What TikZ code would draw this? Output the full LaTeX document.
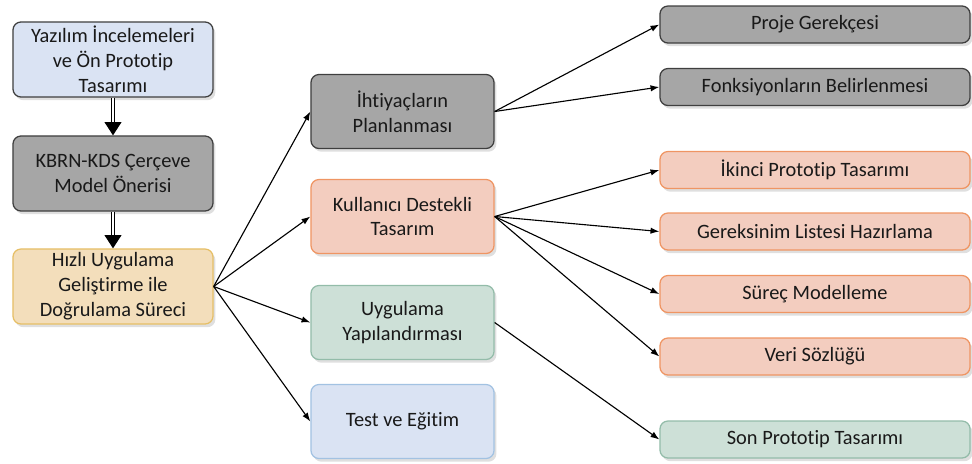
\documentclass[tikz,border=0pt]{standalone}
\usepackage{fontspec}
\setmainfont{Carlito}[Ligatures=NoCommon]
\usetikzlibrary{positioning, arrows.meta, shadows}
\definecolor{kutuMavi}{HTML}{DAE3F3}
\definecolor{kutuGri}{HTML}{A6A6A6}
\definecolor{kutuBej}{HTML}{F3DEBB}
\definecolor{kutuSomon}{HTML}{F3CDBF}
\definecolor{kutuYesil}{HTML}{CDE0D7}
\definecolor{cizgiKoyu}{HTML}{3F3F3F}
\definecolor{cizgiAltin}{HTML}{E6BF66}
\definecolor{cizgiTuruncu}{HTML}{EF9563}
\definecolor{cizgiYesil}{HTML}{93BCA9}
\definecolor{cizgiMavi}{HTML}{A2C2E2}
\tikzset{
  kutu/.style={rectangle, rounded corners=0.2cm, draw, line width=0.9pt, align=center,
    font=\fontsize{14.5}{17.7}\selectfont, text=black!90, inner sep=2pt,
    drop shadow={shadow xshift=0.6mm, shadow yshift=-0.8mm, opacity=0.25}},
  buyuk/.style={kutu, minimum width=5cm, minimum height=1.875cm},
  orta/.style={kutu, minimum width=4.575cm, minimum height=1.85cm},
  ince/.style={kutu, minimum width=7.75cm, minimum height=0.925cm},
  gri/.style={fill=kutuGri, draw=cizgiKoyu},
  mavi/.style={fill=kutuMavi, draw=cizgiMavi},
  bej/.style={fill=kutuBej, draw=cizgiAltin},
  somon/.style={fill=kutuSomon, draw=cizgiTuruncu},
  yesil/.style={fill=kutuYesil, draw=cizgiYesil},
  ok/.style={line width=0.8pt, -{Latex[length=2.2mm, width=1.6mm]}},
  ciftok/.style={double, double distance=1.6pt, line width=0.8pt,
    -{Triangle[length=3.3mm, width=4.2mm]}},
}

\begin{document}
\begin{tikzpicture}[x=0.025cm, y=-0.025cm]
\useasboundingbox (0,0) rectangle (972,463);

% ── Sol sutun ───────────────────────────────────────────────
\node[buyuk, mavi, draw=cizgiKoyu] (incele) at (113, 59.5) {Yazılım İncelemeleri\\ve Ön Prototip\\Tasarımı};
\node[buyuk, gri] (model) at (113, 173.5) {KBRN-KDS Çerçeve\\Model Önerisi};
\node[buyuk, bej] (hizli) at (113, 286.5) {Hızlı Uygulama\\Geliştirme ile\\Doğrulama Süreci};

% ── Orta sutun ──────────────────────────────────────────────
\node[orta, gri] (ihtiyac) at (402.5, 111.5) {İhtiyaçların\\Planlanması};
\node[orta, somon] (kullanici) at (402.5, 216.5) {Kullanıcı Destekli\\Tasarım};
\node[orta, yesil] (uygulama) at (402.5, 322.5) {Uygulama\\Yapılandırması};
\node[orta, mavi] (test) at (402.5, 421.5) {Test ve Eğitim};

% ── Sag sutun ───────────────────────────────────────────────
\node[ince, gri] (proje) at (815, 24.5) {Proje Gerekçesi};
\node[ince, gri] (fonk) at (815, 87) {Fonksiyonların Belirlenmesi};
\node[ince, somon] (ikinci) at (815, 170) {İkinci Prototip Tasarımı};
\node[ince, somon] (gerek) at (815, 231.5) {Gereksinim Listesi Hazırlama};
\node[ince, somon] (surec) at (815, 294) {Süreç Modelleme};
\node[ince, somon] (veri) at (815, 356.5) {Veri Sözlüğü};
\node[ince, yesil] (son) at (815, 439.5) {Son Prototip Tasarımı};

% ── Baglantilar ─────────────────────────────────────────────
\draw[ciftok] (incele.south) -- (model.north);
\draw[ciftok] (model.south) -- (hizli.north);

\foreach \t in {ihtiyac, kullanici, uygulama, test} {
  \draw[ok] (hizli.east) -- (\t.west);
}
\foreach \t in {proje, fonk} {
  \draw[ok] (ihtiyac.east) -- (\t.west);
}
\foreach \t in {ikinci, gerek, surec, veri} {
  \draw[ok] (kullanici.east) -- (\t.west);
}
\draw[ok] (uygulama.east) -- (son.west);

\end{tikzpicture}
\end{document}
